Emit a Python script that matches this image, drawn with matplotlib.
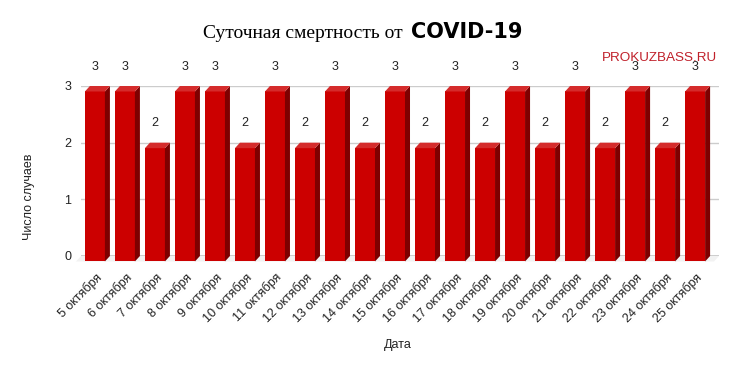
import matplotlib

matplotlib.use('Agg')
import matplotlib.pyplot as plt
from matplotlib.patches import Polygon
import numpy as np

# Datos
fechas = ['5 октября', '6 октября', '7 октября', '8 октября', '9 октября',
          '10 октября', '11 октября', '12 октября', '13 октября', '14 октября',
          '15 октября', '16 октября', '17 октября', '18 октября', '19 октября',
          '20 октября', '21 октября', '22 октября', '23 октября', '24 октября',
          '25 октября']
muertes = [3, 3, 2, 3, 3, 2, 3, 2, 3, 2, 3, 2, 3, 2, 3, 2, 3, 2, 3, 2, 3]
ticks_y = [0, 1, 2, 3]

# Estilo
fuente = 'Liberation Sans'
color_frente = '#cc0000'
color_lado = '#7e0000'
color_tapa = '#d52b2b'
ancho = 0.667   # ancho de la barra (unidades de datos)
dx = 0.167      # profundidad horizontal
dy = 0.097      # profundidad vertical

W, H = 737, 371
fig = plt.figure(figsize=(W / 100, H / 100), dpi=100)
ax = fig.add_axes([81 / W, (H - 256) / H, (719 - 81) / W, (256 - 86) / H])

pos = np.arange(len(muertes))
ax.set_xlim(-0.63, len(muertes) - 1 + 0.63)
ax.set_ylim(0, 3)

# Rejilla
ax.set_yticks(ticks_y)
ax.grid(axis='y', color='#cccccc', linewidth=1, zorder=0)
ax.set_axisbelow(True)
ax.axhline(0, color='#333333', linewidth=1, zorder=1)

# Suelo
x0, x1 = ax.get_xlim()
suelo = Polygon([(x0, 0), (x1, 0), (x1 - dx, -dy), (x0 - dx, -dy)],
                closed=True, facecolor='#f2f2f2', edgecolor='none',
                zorder=0.5, clip_on=False)
ax.add_patch(suelo)

# Barras frontales
ax.bar(pos - dx, muertes, width=ancho, bottom=-dy, color=color_frente,
       linewidth=0, zorder=3, clip_on=False)

# Lados y tapas (efecto 3D)
for x, v in zip(pos, muertes):
    xr = x + ancho / 2
    xl = x - ancho / 2
    lado = Polygon([(xr - dx, -dy), (xr, 0), (xr, v), (xr - dx, v - dy)],
                   closed=True, facecolor=color_lado, edgecolor='none',
                   zorder=3, clip_on=False)
    tapa = Polygon([(xl - dx, v - dy), (xr - dx, v - dy), (xr, v), (xl, v)],
                   closed=True, facecolor=color_tapa, edgecolor='none',
                   zorder=3, clip_on=False)
    ax.add_patch(lado)
    ax.add_patch(tapa)
    ax.annotate(str(v), (x - dx, v), xytext=(0, 14), textcoords='offset points',
                ha='center', va='center', fontsize=9, color='#222222',
                family=fuente, zorder=5, annotation_clip=False)

# Ejes
for s in ax.spines.values():
    s.set_visible(False)
ax.tick_params(axis='y', length=0, pad=7, labelsize=9, labelcolor='#222222')
ax.tick_params(axis='x', length=0, pad=14, labelsize=9, labelcolor='#222222')
ax.set_xticks(pos)
ax.set_xticklabels(fechas, rotation=45, ha='right', va='center',
                   rotation_mode='anchor', family=fuente)
for t in ax.get_yticklabels():
    t.set_family(fuente)

# Etiquetas de ejes
fig.text(398 / W, 1 - 345 / H, 'Дата', ha='center', va='center',
         fontsize=9, family=fuente, color='#222222')
fig.text(29 / W, 1 - 197 / H, 'Число случаев', ha='center', va='center',
         rotation=90, fontsize=9, family=fuente, color='#222222')

# Titulo (dos partes)
fig.text(403 / W, 1 - 38 / H, 'Суточная смертность от', ha='right',
         va='baseline', fontsize=14, family='Liberation Serif', color='black')
fig.text(411 / W, 1 - 38 / H, 'COVID-19', ha='left', va='baseline',
         fontsize=15, family='DejaVu Sans', fontweight='bold', color='black')

# Marca de agua
fig.text(717 / W, 1 - 58 / H, 'PROKUZBASS.RU', ha='right', va='center',
         fontsize=9.7, family=fuente, color='#c0202a', zorder=1)

fig.savefig('out.png', dpi=100)
